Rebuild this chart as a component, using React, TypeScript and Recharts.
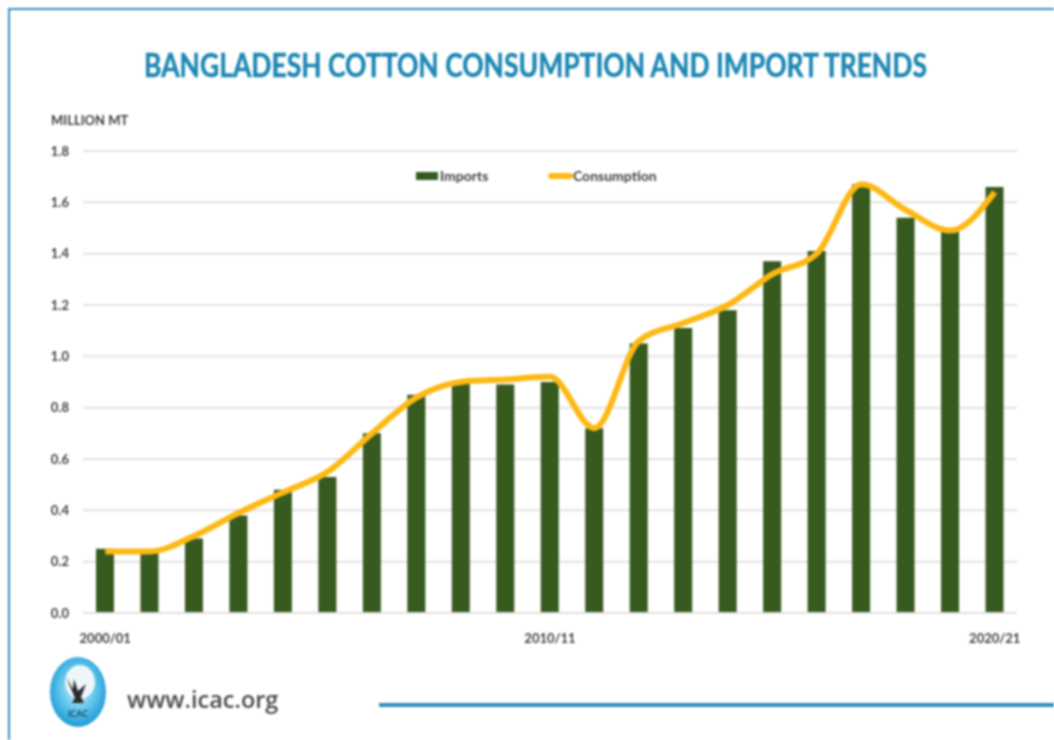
import { ComposedChart, Bar, Line, XAxis, YAxis, CartesianGrid, Legend } from 'recharts'

const seasons = [
  '2000/01', '2001/02', '2002/03', '2003/04', '2004/05', '2005/06', '2006/07',
  '2007/08', '2008/09', '2009/10', '2010/11', '2011/12', '2012/13', '2013/14',
  '2014/15', '2015/16', '2016/17', '2017/18', '2018/19', '2019/20', '2020/21',
]
const imports = [0.25, 0.24, 0.29, 0.38, 0.48, 0.53, 0.7, 0.85, 0.9, 0.89, 0.9, 0.72, 1.05, 1.11, 1.18, 1.37, 1.41, 1.67, 1.54, 1.49, 1.66]
const consumption = [0.24, 0.24, 0.3, 0.39, 0.47, 0.55, 0.7, 0.84, 0.9, 0.91, 0.92, 0.72, 1.06, 1.13, 1.2, 1.32, 1.4, 1.67, 1.57, 1.49, 1.64]
const xTicks = ['2000/01', '2010/11', '2020/21']
const yTicks = [0, 0.2, 0.4, 0.6, 0.8, 1, 1.2, 1.4, 1.6, 1.8]

const chartData = seasons.map((season, i) => ({
  season,
  Imports: imports[i],
  Consumption: consumption[i],
}))

const FONT = 'Lato, "Open Sans", sans-serif'
const BLUE = '#2f8fbd'
const TITLE_BLUE = '#1d87b4'
const TEXT = '#404040'

// legend sits inside the plot, just under the 1.8 gridline
function ChartLegend() {
  const label = { position: 'absolute', top: 0, fontSize: 14, fontWeight: 700, color: TEXT } as const
  return (
    <div style={{ position: 'relative', width: 260, height: 18, fontFamily: FONT }}>
      <div style={{ position: 'absolute', left: 0, top: 5, width: 22, height: 8, background: '#375a1f' }} />
      <div style={{ ...label, left: 24 }}>Imports</div>
      <div style={{ position: 'absolute', left: 132, top: 6, width: 25, height: 6, borderRadius: 3, background: '#fcb913' }} />
      <div style={{ ...label, left: 157 }}>Consumption</div>
    </div>
  )
}

function Logo() {
  return (
    <svg width={60} height={74} style={{ position: 'absolute', left: 48, top: 655 }}>
      <defs>
        <radialGradient id="logoFill" cx="50%" cy="45%" r="55%">
          <stop offset="0%" stopColor="#d6f1fb" />
          <stop offset="60%" stopColor="#5cc3ea" />
          <stop offset="100%" stopColor="#1f9ad6" />
        </radialGradient>
      </defs>
      <ellipse cx={30} cy={37} rx={28} ry={35} fill="url(#logoFill)" />
      <ellipse cx={32} cy={27} rx={15} ry={17} fill="#eef6fa" />
      <path d="M18 22 L25 34 L26 24 L30 36 L38 29 L33 42 L36 48 L24 48 L27 43 Z" fill="#2b2b2b" />
      <text x={30} y={62} textAnchor="middle" fontSize={9} fontWeight={700} fill="#17506e" fontFamily={FONT}>ICAC</text>
    </svg>
  )
}

export default function App() {
  return (
    <div style={{ position: 'absolute', left: 0, top: 0, width: 1054, height: 740, background: '#fff', overflow: 'hidden', filter: 'blur(0.9px)' }}>
      {/* slide frame: top and left edge only */}
      <div style={{ position: 'absolute', left: 8, top: 8, right: 0, height: 2, background: BLUE }} />
      <div style={{ position: 'absolute', left: 8, top: 8, bottom: 0, width: 2, background: BLUE }} />

      <div style={{ position: 'absolute', left: 0, top: 45, width: 1071, textAlign: 'center', fontFamily: FONT, fontSize: 32, fontWeight: 700, color: TITLE_BLUE, WebkitTextStroke: `0.5px ${TITLE_BLUE}`, whiteSpace: 'nowrap', transform: 'scaleX(0.827)' }}>
        BANGLADESH COTTON CONSUMPTION AND IMPORT TRENDS
      </div>
      <div style={{ position: 'absolute', left: 51, top: 112, fontFamily: FONT, fontSize: 13, fontWeight: 700, color: TEXT }}>
        MILLION MT
      </div>

      <div style={{ position: 'absolute', left: 0, top: 0 }}>
        <ComposedChart
          width={1054}
          height={740}
          data={chartData}
          margin={{ top: 151, right: 37, bottom: 98, left: 0 }}
        >
          <CartesianGrid vertical={false} stroke="#e2e2e2" strokeWidth={2} />
          <XAxis
            dataKey="season"
            height={11}
            ticks={xTicks}
            interval={0}
            axisLine={{ stroke: '#e2e2e2', strokeWidth: 2 }}
            tickLine={false}
            tickMargin={15}
            tick={{ fontSize: 13, fontWeight: 700, fill: TEXT, fontFamily: FONT }}
          />
          <YAxis
            width={83}
            domain={[0, 1.8]}
            ticks={yTicks}
            tickFormatter={(v: number) => v.toFixed(1)}
            axisLine={false}
            tickLine={false}
            tickMargin={8}
            tick={{ fontSize: 13, fontWeight: 700, fill: TEXT, fontFamily: FONT }}
          />
          <Legend
            content={<ChartLegend />}
            wrapperStyle={{ position: 'absolute', left: 416, top: 167, width: 260, bottom: 'auto' }}
          />
          <Bar dataKey="Imports" fill="#375a1f" barSize={18} isAnimationActive={false} />
          <Line
            dataKey="Consumption"
            type="monotone"
            stroke="#fcb913"
            strokeWidth={6}
            dot={false}
            isAnimationActive={false}
          />
        </ComposedChart>
      </div>

      <Logo />
      <div style={{ position: 'absolute', left: 127, top: 683, fontFamily: '"Open Sans", sans-serif', fontSize: 23.5, fontWeight: 600, color: '#4a4a4a' }}>
        www.icac.org
      </div>
      <div style={{ position: 'absolute', left: 379, top: 703, right: 0, height: 4, background: BLUE }} />
    </div>
  )
}
